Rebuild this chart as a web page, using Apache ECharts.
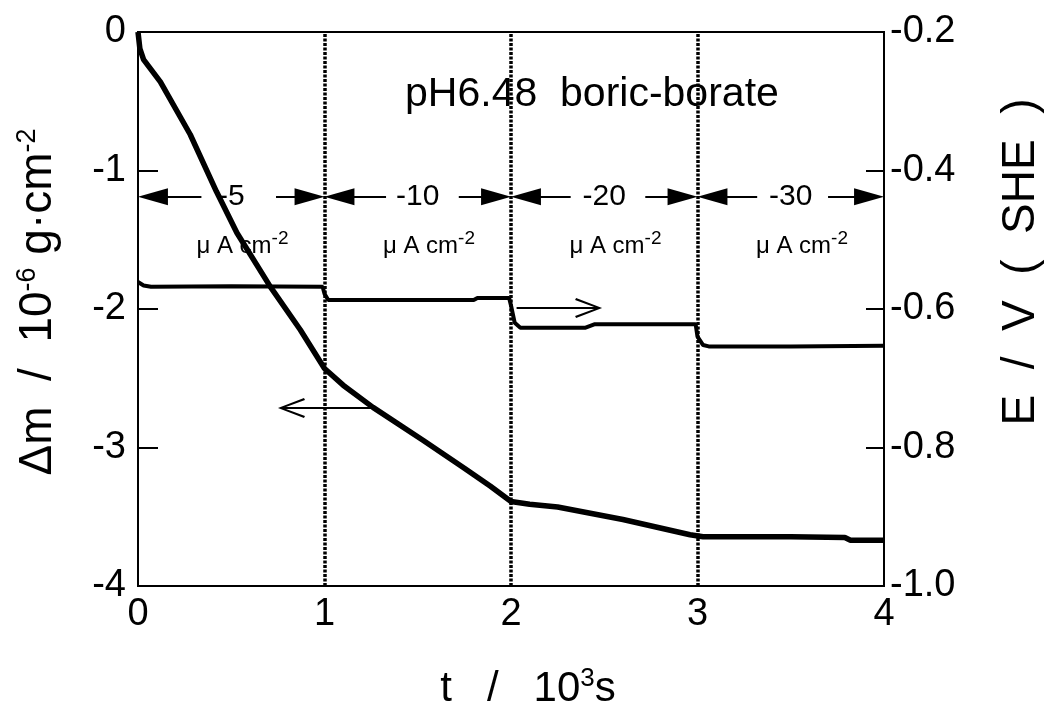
<!DOCTYPE html>
<html><head><meta charset="utf-8">
<script src="https://cdn.jsdelivr.net/npm/echarts@6/dist/echarts.min.js"></script>
<style>html,body{margin:0;padding:0;background:#fff}#c{width:1048px;height:713px}</style>
</head><body><div id="c"></div>
<script>
// ---- data ----
const xTicks = [0, 1, 2, 3, 4];
const massTicks = [0, -1, -2, -3, -4];
const potTicks = [-0.2, -0.4, -0.6, -0.8, -1.0];

const massT = [0, 0.01, 0.03, 0.12, 0.28, 0.42, 0.53, 0.71, 0.87, 1.0, 1.1, 1.26, 1.53, 1.75, 1.89, 2.0, 2.1, 2.25, 2.6, 2.96, 3.03, 3.5, 3.79, 3.82, 4.0];
const massV = [0, -0.12, -0.2, -0.36, -0.74, -1.15, -1.45, -1.84, -2.15, -2.43, -2.55, -2.71, -2.95, -3.15, -3.28, -3.39, -3.41, -3.43, -3.52, -3.63, -3.645, -3.645, -3.65, -3.67, -3.67];

const potT = [0, 0.03, 0.07, 0.5, 0.99, 1.0, 1.02, 1.5, 1.8, 1.82, 1.99, 2.0, 2.02, 2.05, 2.4, 2.45, 2.99, 3.0, 3.03, 3.06, 3.5, 4.0];
const potV = [-0.561, -0.566, -0.568, -0.567, -0.568, -0.578, -0.587, -0.587, -0.587, -0.584, -0.584, -0.595, -0.62, -0.627, -0.627, -0.622, -0.622, -0.64, -0.652, -0.654, -0.654, -0.653];

const boundaries = [1, 2, 3];
const segStart = [0, 1, 2, 3];
const segEnd = [1, 2, 3, 4];
const currents = ['-5', '-10', '-20', '-30'];
const unitText = 'μ A cm';
const unitSup = '-2';
const titleText = 'pH6.48  boric-borate';

// ---- annotation placement (data coordinates) ----
const arrowE = -0.438;
const unitE = -0.509;
const gapL = [0.34, 1.33, 2.32, 3.32];
const gapR = [0.74, 1.72, 2.72, 3.70];
const inset = 0.08;
const font = 'Liberation Sans, Arial, Helvetica, sans-serif';

const massData = massT.map((t, i) => [t, massV[i]]);
const potData = potT.map((t, i) => [t, potV[i]]);

const openArrow = 'path://M10,0 L20,26 L18,27 L11,8 L11,27 L9,27 L9,8 L2,27 L0,26 Z';

const arrowLines = [];
for (let i = 0; i < 4; i++) {
  arrowLines.push([
    { coord: [segStart[i] + inset, arrowE], symbol: 'triangle', symbolSize: [17, 30] },
    { coord: [gapL[i], arrowE], symbol: 'none' }
  ]);
  arrowLines.push([
    { coord: [gapR[i], arrowE], symbol: 'none' },
    { coord: [segEnd[i] - inset, arrowE], symbol: 'triangle', symbolSize: [17, 30] }
  ]);
}
arrowLines.push([
  { coord: [2.03, -0.5986], symbol: 'none' },
  { coord: [2.416, -0.5986], symbol: openArrow, symbolSize: [20, 27] }
]);

const textPoints = [];
for (let i = 0; i < 4; i++) {
  const mid = (segStart[i] + segEnd[i]) / 2;
  textPoints.push({
    coord: [mid, arrowE],
    label: { formatter: currents[i], fontSize: 30, fontFamily: font, color: '#000' }
  });
  textPoints.push({
    coord: [mid + 0.06, unitE],
    label: {
      formatter: '{u|' + unitText + '}{s|' + unitSup + '}',
      rich: {
        u: { fontSize: 24, fontFamily: font, color: '#000' },
        s: { fontSize: 19, fontFamily: font, color: '#000', padding: [0, 0, 15, 0] }
      }
    }
  });
}
textPoints.push({
  coord: [2.434, -0.291],
  label: { formatter: titleText, fontSize: 41, fontFamily: font, color: '#000' }
});

const chart = echarts.init(document.getElementById('c'), null, { renderer: 'canvas' });
const axisLineStyle = { color: '#000', width: 2 };
chart.setOption({
  animation: false,
  backgroundColor: '#fff',
  grid: {
    left: 138, right: 164, top: 32, bottom: 127,
    show: true, borderColor: '#000', borderWidth: 2,
    containLabel: false, outerBoundsMode: 'none'
  },
  xAxis: {
    type: 'value', min: xTicks[0], max: xTicks[xTicks.length - 1], interval: 1,
    axisLine: { show: true, lineStyle: axisLineStyle },
    axisTick: { show: false },
    splitLine: { show: false },
    axisLabel: { fontSize: 38, fontFamily: font, color: '#000', margin: 10 },
    name: '{a|t   /   10}{s|3}{a|s}',
    nameLocation: 'middle', nameGap: 80, nameMoveOverlap: false,
    nameTextStyle: {
      padding: [0, 0, 0, 34],
      rich: {
        a: { fontSize: 42, fontFamily: font, color: '#000' },
        s: { fontSize: 26, fontFamily: font, color: '#000', padding: [0, 0, 20, 0] }
      }
    }
  },
  yAxis: [
    {
      type: 'value', position: 'left', min: massTicks[massTicks.length - 1], max: massTicks[0], interval: 1,
      axisLine: { show: true, lineStyle: axisLineStyle },
      axisTick: { show: true, inside: true, length: 20, lineStyle: { color: '#000', width: 2 } },
      splitLine: { show: false },
      axisLabel: { fontSize: 38, fontFamily: font, color: '#000', margin: 12 },
      name: '{a|Δm  /  10}{s|-6}{a| g·cm}{s|-2}',
      nameLocation: 'middle', nameRotate: 90, nameGap: 75, nameMoveOverlap: false,
      nameTextStyle: {
        padding: [0, 0, 0, 14],
        rich: {
          a: { fontSize: 46, fontFamily: font, color: '#000' },
          s: { fontSize: 27, fontFamily: font, color: '#000', padding: [0, 0, 22, 0] }
        }
      }
    },
    {
      type: 'value', position: 'right', min: potTicks[potTicks.length - 1], max: potTicks[0], interval: 0.2,
      axisLine: { show: true, lineStyle: axisLineStyle },
      axisTick: { show: true, inside: true, length: 18, lineStyle: { color: '#000', width: 2 } },
      splitLine: { show: false },
      axisLabel: { fontSize: 38, fontFamily: font, color: '#000', margin: 6, formatter: v => v.toFixed(1) },
      name: 'E  /  V  (  SHE  )',
      nameLocation: 'middle', nameRotate: 90, nameGap: 114, nameMoveOverlap: false,
      nameTextStyle: { fontSize: 46, fontFamily: font, color: '#000', padding: [0, 0, 0, 94] }
    }
  ],
  series: [
    {
      name: 'mass', type: 'line', yAxisIndex: 0, data: massData,
      showSymbol: false, symbol: 'none',
      lineStyle: { color: '#000', width: 5.5 },
      z: 3,
      markLine: {
        silent: true, symbol: ['none', 'none'], label: { show: false },
        lineStyle: { color: '#000', width: 3.5, type: [3, 1.5] },
        data: boundaries.map(b => ({ xAxis: b })).concat([
          [
            { coord: [1.26, -2.715], symbol: 'none', lineStyle: { color: '#000', width: 1.8, type: 'solid' } },
            { coord: [0.823, -2.715], symbol: openArrow, symbolSize: [20, 27] }
          ]
        ])
      }
    },
    {
      name: 'potential', type: 'line', yAxisIndex: 1, data: potData,
      showSymbol: false, symbol: 'none',
      lineStyle: { color: '#000', width: 4 },
      z: 3,
      markLine: {
        silent: true, symbol: ['none', 'none'], label: { show: false },
        lineStyle: { color: '#000', width: 2, type: 'solid' },
        itemStyle: { color: '#000' },
        data: arrowLines
      },
      markPoint: {
        silent: true, symbol: 'rect', symbolSize: 1,
        itemStyle: { color: 'rgba(0,0,0,0)' },
        label: { show: true, position: 'inside', color: '#000' },
        data: textPoints
      }
    }
  ]
});
</script>
</body></html>
